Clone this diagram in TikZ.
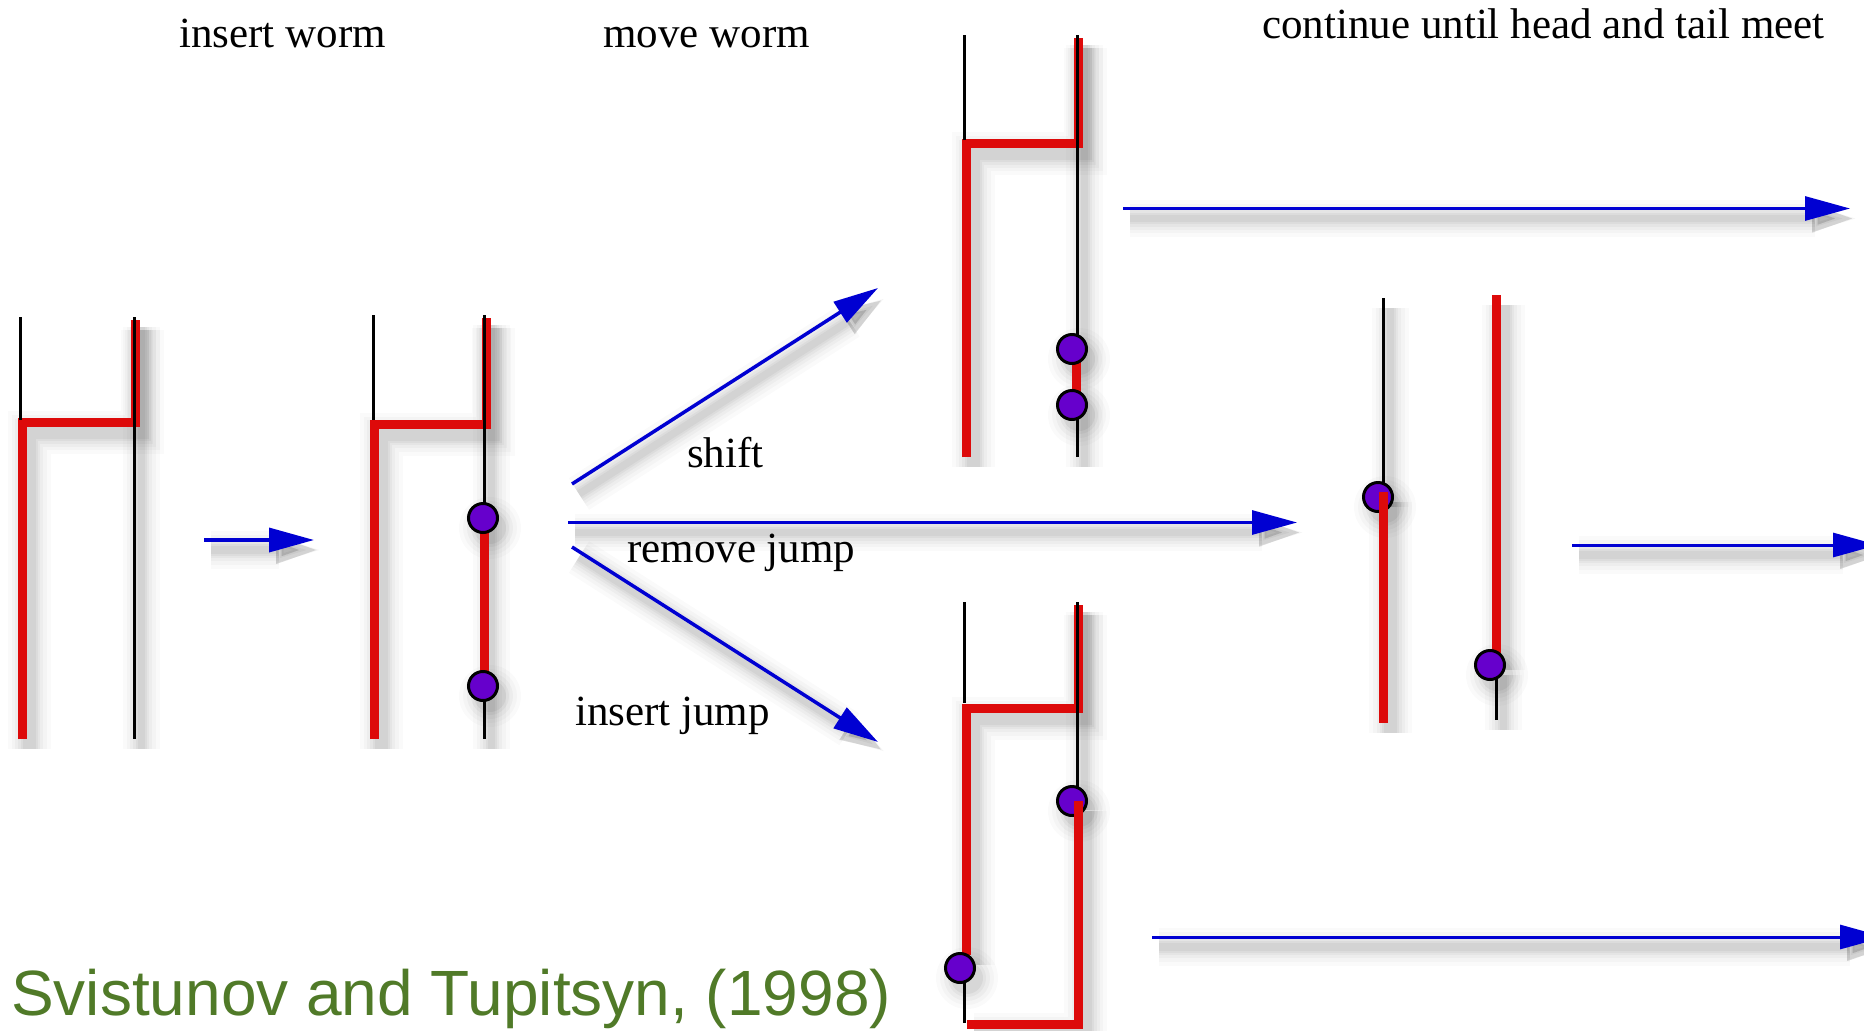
\documentclass[tikz,border=0pt]{standalone}
\usepackage{fontspec}
\setmainfont{Liberation Serif}
\newfontfamily\citefont{Liberation Sans}
\usetikzlibrary{arrows.meta}
\definecolor{wred}{RGB}{221,10,10}
\definecolor{wblue}{RGB}{0,0,210}
\definecolor{wdot}{RGB}{102,0,204}
\definecolor{wgreen}{RGB}{80,122,40}
\tikzset{
  redline/.style={draw=wred, line width=9pt, line join=miter},
  blackline/.style={draw=black, line width=3pt},
  bluearrow/.style={draw=wblue, line width=3.5pt, -{Triangle[length=45pt,width=24pt]}},
  wdotnode/.style={circle, fill=wdot, draw=black, line width=3pt, minimum size=29pt, inner sep=0pt},
  txtlabel/.style={font=\fontsize{43}{50}\selectfont, anchor=base west, inner sep=0pt},
  shadowcanvas/.style={transform canvas={shift={(7pt,-10pt)}}},
}
\newcommand{\shd}[3][]{\foreach \ww/\oo in {34/0.018,26/0.022,19/0.028,13/0.034,8/0.04,4/0.045}{\draw[black, opacity=\oo, line width=#2+\ww, #1, shadowcanvas] #3;}}
\newcommand{\shdot}[1]{\foreach \rr/\oo in {31/0.02,27/0.025,23/0.03,19/0.04,16/0.05}{\fill[black, opacity=\oo, shadowcanvas] (#1) circle (\rr);}}
\begin{document}
\begin{tikzpicture}[x=1pt,y=-1pt]
\useasboundingbox (0,0) rectangle (1864,1031);
\clip (0,0) rectangle (1864,1031);

% arrow end points
\coordinate (a1s) at (204,540);    \coordinate (a1e) at (314,540);
\coordinate (shs) at (572,484);    \coordinate (she) at (878,288);
\coordinate (rjs) at (568,522.5);  \coordinate (rje) at (1297,522.5);
\coordinate (ijs) at (572,547);    \coordinate (ije) at (878,742);
\coordinate (t1s) at (1123,208.5); \coordinate (t1e) at (1850,208.5);
\coordinate (m1s) at (1572,545);   \coordinate (m1e) at (1878,545);
\coordinate (b1s) at (1152,937);   \coordinate (b1e) at (1885,937);

% dot centres
\coordinate (db1) at (483,518);  \coordinate (db2) at (483,686);
\coordinate (dc1) at (1072,349); \coordinate (dc2) at (1072,405);
\coordinate (dd1) at (1072,801); \coordinate (dd2) at (960,968);
\coordinate (de1) at (1378,497); \coordinate (de2) at (1490,665);

% ---------- shadows ----------
\shd{9}{(22.3,739) -- (22.3,422.5) -- (135,422.5) -- (135,320)}
\shd{3}{(134,317) -- (134,739)}
\shd{9}{(374,739) -- (374,424) -- (486,424) -- (486,318)}
\shd{3}{(484,315) -- (484,739)}
\shd{9}{(966,457) -- (966,143.5) -- (1078,143.5) -- (1078,38)}
\shd{3}{(1077,35) -- (1077,457)}
\shd{9}{(966,955) -- (966,708) -- (1078,708) -- (1078,605)}
\shd{9}{(1078.5,801) -- (1078.5,1024.5) -- (967,1024.5)}
\shd{3}{(1077,602) -- (1077,800)}
\shd{3}{(1383,298) -- (1383,497)}
\shd{9}{(1383.5,492) -- (1383.5,723)}
\shd{9}{(1496,295) -- (1496,660)}
\shd{3}{(1496,665) -- (1496,720)}
\shd[-{Triangle[length=45pt,width=24pt]}]{3.5}{(a1s) -- (a1e)}
\shd[-{Triangle[length=45pt,width=24pt]}]{3.5}{(shs) -- (she)}
\shd[-{Triangle[length=45pt,width=24pt]}]{3.5}{(rjs) -- (rje)}
\shd[-{Triangle[length=45pt,width=24pt]}]{3.5}{(ijs) -- (ije)}
\shd[-{Triangle[length=45pt,width=24pt]}]{3.5}{(t1s) -- (t1e)}
\shd[-{Triangle[length=45pt,width=24pt]}]{3.5}{(m1s) -- (m1e)}
\shd[-{Triangle[length=45pt,width=24pt]}]{3.5}{(b1s) -- (b1e)}
\shdot{db1}\shdot{db2}\shdot{dc1}\shdot{dc2}\shdot{dd1}\shdot{dd2}\shdot{de1}\shdot{de2}

% ---------- titles ----------
\node[txtlabel] (tinsert) at (179,47) {insert worm};
\node[txtlabel] (tmove) at (603,47) {move worm};
\node[txtlabel] (tcont) at (1262,38) {continue until head and tail meet};

% ---------- diagram A ----------
\draw[redline] (22.3,739) -- (22.3,422.5) -- (135,422.5) -- (135,320);
\draw[blackline] (20.7,317) -- (20.7,420);
\draw[blackline] (134,317) -- (134,739);

% ---------- diagram B ----------
\draw[redline] (374,739) -- (374,424) -- (486,424) -- (486,318);
\draw[blackline] (373,315) -- (373,420);
\draw[blackline] (484,315) -- (484,739);
\draw[redline] (484,518) -- (484,686);
\node[wdotnode] (b1) at (db1) {};
\node[wdotnode] (b2) at (db2) {};

% ---------- diagram C (shift) ----------
\draw[redline] (966,457) -- (966,143.5) -- (1078,143.5) -- (1078,38);
\draw[blackline] (964,35) -- (964,140);
\draw[blackline] (1077,35) -- (1077,457);
\draw[redline] (1076,349) -- (1076,405);
\node[wdotnode] (c1) at (dc1) {};
\node[wdotnode] (c2) at (dc2) {};

% ---------- diagram D (insert jump) ----------
\draw[redline] (966,955) -- (966,708) -- (1078,708) -- (1078,605);
\draw[blackline] (964,602) -- (964,703);
\draw[blackline] (1077,602) -- (1077,800);
\draw[blackline] (964,968) -- (964,1023);
\node[wdotnode] (d1) at (dd1) {};
\draw[redline] (1078.5,801) -- (1078.5,1024.5) -- (967,1024.5);
\node[wdotnode] (d2) at (dd2) {};

% ---------- diagram E (remove jump) ----------
\draw[blackline] (1383,298) -- (1383,497);
\draw[blackline] (1496,665) -- (1496,720);
\node[wdotnode] (e1) at (de1) {};
\draw[redline] (1383.5,492) -- (1383.5,723);
\draw[redline] (1496,295) -- (1496,660);
\node[wdotnode] (e2) at (de2) {};

% ---------- arrows ----------
\draw[bluearrow] (a1s) -- (a1e);
\draw[bluearrow] (shs) -- (she);
\draw[bluearrow, line width=3pt] (rjs) -- (rje);
\draw[bluearrow] (ijs) -- (ije);
\draw[bluearrow, line width=3pt] (t1s) -- (t1e);
\draw[bluearrow, line width=3pt] (m1s) -- (m1e);
\draw[bluearrow, line width=3pt] (b1s) -- (b1e);

% ---------- arrow labels ----------
\node[txtlabel] (lshift) at (687,467) {shift};
\node[txtlabel] (lremove) at (627,562) {remove jump};
\node[txtlabel] (linsert) at (575,725) {insert jump};

% ---------- citation ----------
\node[anchor=base west, inner sep=0pt, font=\citefont\fontsize{64}{70}\selectfont, text=wgreen] (cite) at (11,1015) {Svistunov and Tupitsyn, (1998)};
\end{tikzpicture}
\end{document}
